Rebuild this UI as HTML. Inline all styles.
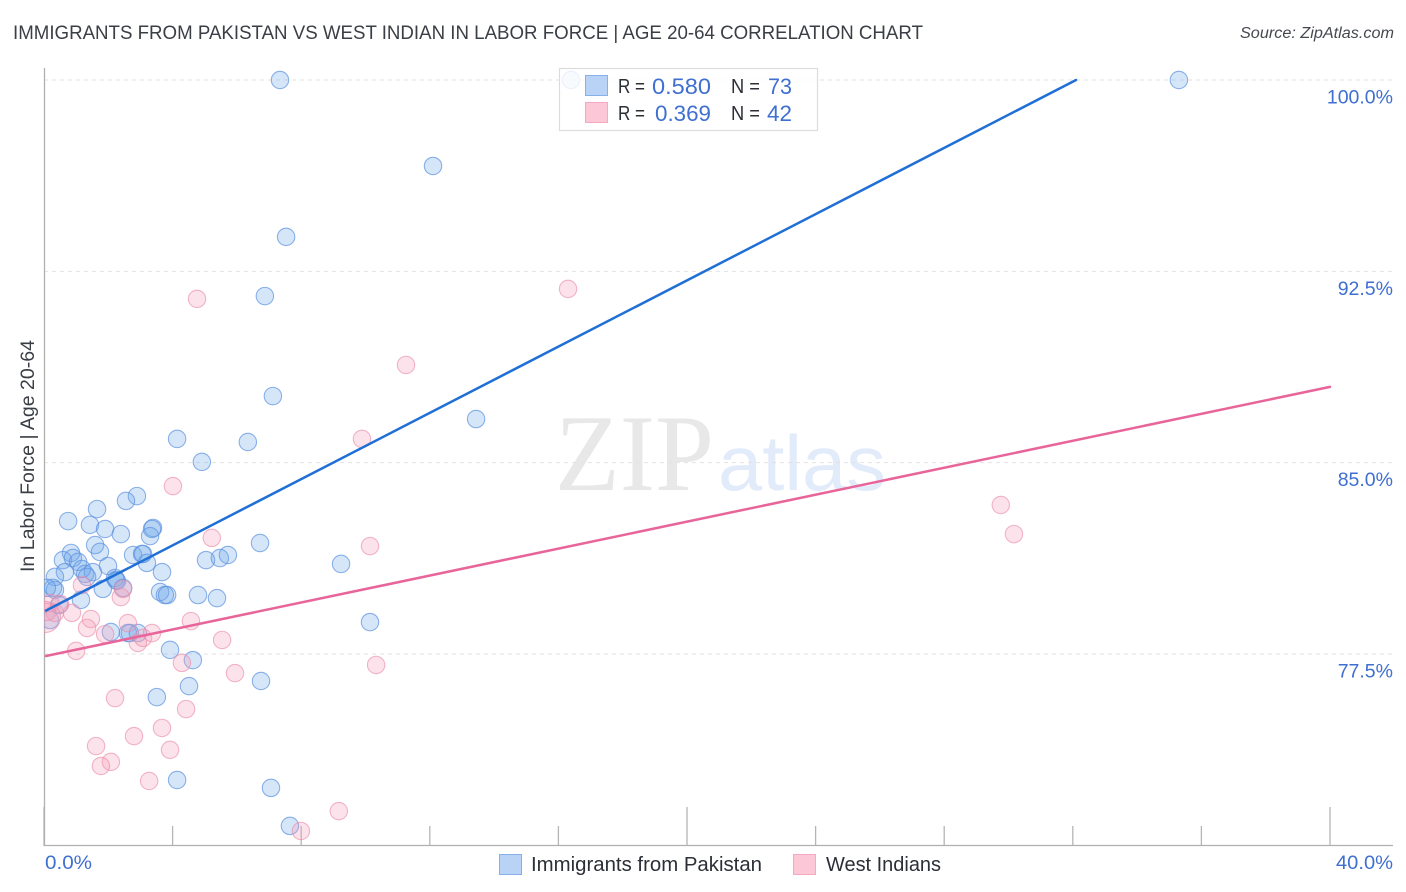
<!DOCTYPE html>
<html lang="en">
<head>
<meta charset="utf-8">
<title>Immigrants from Pakistan vs West Indian in Labor Force correlation chart</title>
<style>
html,body{margin:0;padding:0;background:#fff;}
body{width:1406px;height:892px;overflow:hidden;}
svg{display:block;}
text{font-family:"Liberation Sans",sans-serif;}
</style>
</head>
<body>
<svg id="chart" width="1406" height="892" viewBox="0 0 1406 892" xmlns="http://www.w3.org/2000/svg">
  <defs>
    <clipPath id="plot-clip"><rect x="44" y="60" width="1349" height="786"/></clipPath>
  </defs>
  <text x="13" y="39" font-size="19.5" fill="#3a3e45" textLength="910" lengthAdjust="spacingAndGlyphs">IMMIGRANTS FROM PAKISTAN VS WEST INDIAN IN LABOR FORCE | AGE 20-64 CORRELATION CHART</text>
  <text x="1394" y="38" font-size="15.5" font-style="italic" fill="#45494f" text-anchor="end" textLength="154" lengthAdjust="spacingAndGlyphs">Source: ZipAtlas.com</text>

  <g>
    <text x="555" y="490" font-size="109" fill="#e8e8e8" textLength="159" lengthAdjust="spacingAndGlyphs" style="font-family:'Liberation Serif',serif">ZIP</text>
    <text x="718" y="490" font-size="78" fill="#e2ebfa" textLength="168" lengthAdjust="spacingAndGlyphs">atlas</text>
  </g>

  <g id="grid"></g>
  <g id="xticks"></g>
  <g id="ylabels"></g>
  <line x1="44.5" y1="68" x2="44.5" y2="846" stroke="#b0b0b0" stroke-width="1.3"/>
  <line x1="44" y1="845.5" x2="1393" y2="845.5" stroke="#b0b0b0" stroke-width="1.3"/>

  <g id="points" clip-path="url(#plot-clip)"></g>
  <g id="trends"></g>

  <text transform="translate(34,456) rotate(-90)" font-size="19" fill="#3a3e45" text-anchor="middle" textLength="232" lengthAdjust="spacingAndGlyphs">In Labor Force | Age 20-64</text>
  <text x="45" y="869" font-size="19.5" fill="#3f6fd0" textLength="47" lengthAdjust="spacingAndGlyphs">0.0%</text>
  <text x="1393" y="869" font-size="19.5" fill="#3f6fd0" text-anchor="end" textLength="57" lengthAdjust="spacingAndGlyphs">40.0%</text>

  <g>
    <rect x="559.5" y="68.5" width="258" height="62" fill="#fff" fill-opacity="0.82" stroke="#dcdcdc" stroke-width="1.2"/>
    <rect x="585.5" y="75.5" width="22" height="20" fill="#b9d3f7" stroke="#85b0ea"/>
    <rect x="585.5" y="102.5" width="22" height="20" fill="#fcc8d8" stroke="#f5a9c0"/>
    <text x="618" y="93" font-size="20" fill="#2b2f36" textLength="27" lengthAdjust="spacingAndGlyphs">R =</text>
    <text x="652" y="94" font-size="22" fill="#3f6fd0" textLength="59" lengthAdjust="spacingAndGlyphs">0.580</text>
    <text x="731" y="93" font-size="20" fill="#2b2f36" textLength="29" lengthAdjust="spacingAndGlyphs">N =</text>
    <text x="768" y="94" font-size="22" fill="#3f6fd0" textLength="24" lengthAdjust="spacingAndGlyphs">73</text>
    <text x="618" y="120" font-size="20" fill="#2b2f36" textLength="27" lengthAdjust="spacingAndGlyphs">R =</text>
    <text x="655" y="121" font-size="22" fill="#3f6fd0" textLength="56" lengthAdjust="spacingAndGlyphs">0.369</text>
    <text x="731" y="120" font-size="20" fill="#2b2f36" textLength="29" lengthAdjust="spacingAndGlyphs">N =</text>
    <text x="767" y="121" font-size="22" fill="#3f6fd0" textLength="25" lengthAdjust="spacingAndGlyphs">42</text>
  </g>

  <g>
    <rect x="499.5" y="854.5" width="22" height="20" fill="#b9d3f7" stroke="#85b0ea"/>
    <text x="531" y="871" font-size="20" fill="#2b2f36" textLength="231" lengthAdjust="spacingAndGlyphs">Immigrants from Pakistan</text>
    <rect x="793.5" y="854.5" width="22" height="20" fill="#fcc8d8" stroke="#f5a9c0"/>
    <text x="826" y="871" font-size="20" fill="#2b2f36" textLength="115" lengthAdjust="spacingAndGlyphs">West Indians</text>
  </g>
</svg>
<script>
const yTickValues = [100, 92.5, 85, 77.5];
const yTickLabels = ["100.0%", "92.5%", "85.0%", "77.5%"];
const xTickValues = [0, 4, 8, 12, 16, 20, 24, 28, 32, 36, 40];
const xMajorTicks = [0, 20, 40];

const pakistanX = [7.34,16.39,35.30,12.10,7.53,6.87,7.12,13.44,4.14,6.34,4.91,2.89,2.55,1.65,0.75,1.43,1.90,2.39,3.39,3.36,3.30,1.59,1.74,0.84,0.59,0.90,1.06,2.77,3.05,3.08,3.20,1.99,3.67,0.65,0.34,1.18,1.28,1.52,1.34,2.21,2.24,2.27,2.46,1.83,0.28,0.34,0.09,1.15,3.61,3.76,3.83,4.79,5.38,6.72,5.04,5.47,5.72,0.47,0.19,2.08,2.61,2.67,2.92,3.92,4.63,9.24,10.14,6.75,4.51,3.51,4.14,7.06,7.65];
const pakistanY = [100,100,100,96.63,93.85,91.53,87.61,86.71,85.93,85.81,85.03,83.69,83.50,83.18,82.71,82.56,82.40,82.20,82.44,82.40,82.12,81.77,81.50,81.46,81.18,81.26,81.11,81.38,81.42,81.42,81.07,80.95,80.71,80.71,80.52,80.83,80.64,80.71,80.52,80.48,80.40,80.36,80.09,80.05,80.09,80.01,80.09,79.62,79.93,79.81,79.81,79.81,79.69,81.85,81.18,81.26,81.38,79.42,78.83,78.36,78.32,78.32,78.32,77.66,77.26,81.03,78.75,76.44,76.24,75.81,72.56,72.25,70.76];

const westIndianX = [4.76,16.30,11.26,9.89,4.01,5.22,10.14,29.76,30.17,1.18,2.39,2.46,0.87,1.46,1.34,1.90,2.61,2.92,3.08,3.36,4.57,5.54,1.00,4.29,0.19,0.34,0.50,0.03,5.94,10.33,2.21,4.42,3.67,2.80,3.92,1.62,2.08,1.77,3.27,7.99,9.17,0.09];
const westIndianY = [91.42,91.81,88.83,85.93,84.08,82.05,81.73,83.34,82.20,80.20,79.73,80.05,79.11,78.87,78.52,78.28,78.71,77.93,78.13,78.32,78.79,78.05,77.62,77.15,79.50,79.11,79.46,78.95,76.75,77.07,75.77,75.34,74.60,74.28,73.74,73.89,73.27,73.11,72.52,70.56,71.34,79.15];
const westIndianWeight = [1,1,1,1,1,1,1,1,1,1,1,1,1,1,1,1,1,1,1,1,1,1,1,1,1,1,1,3.2,1,1,1,1,1,1,1,1,1,1,1,1,1,1];

const pakistanTrendX = [0.06, 32.1];
const pakistanTrendY = [79.2, 100];
const westIndianTrendX = [0.06, 40];
const westIndianTrendY = [77.42, 87.97];

const SVGNS = "http://www.w3.org/2000/svg";
function xScale(v) { return 44 + v * 32.15; }
function yScale(v) { return 80 + (100 - v) * 25.51; }
function make(tag, attrs, parent) {
  const el = document.createElementNS(SVGNS, tag);
  for (const k in attrs) el.setAttribute(k, attrs[k]);
  parent.appendChild(el);
  return el;
}

const grid = document.getElementById("grid");
const ylabels = document.getElementById("ylabels");
yTickValues.forEach(function (v, i) {
  const y = yScale(v);
  const g = make("line", {x1: 44, x2: 1393, y1: y, y2: y, stroke: "#e2e2e2", "stroke-width": 1, "stroke-dasharray": "4 4"}, grid);
  
  
  const t = make("text", {x: 1393, y: y + 23.5, "font-size": 19.5, fill: "#3f6fd0", "text-anchor": "end"}, ylabels);
  t.textContent = yTickLabels[i];
  
  
});

const xticks = document.getElementById("xticks");
xTickValues.forEach(function (v) {
  const x = xScale(v);
  const top = xMajorTicks.indexOf(v) >= 0 ? 807 : 826;
  const tk = make("line", {x1: x, x2: x, y1: top, y2: 846, stroke: "#b5b5b5", "stroke-width": 1.3}, xticks);
  
  
});

const points = document.getElementById("points");
pakistanX.forEach(function (v, i) {
  const c = make("circle", {cx: xScale(v), cy: yScale(pakistanY[i]), r: 8.7, fill: "#6aa5ea", "fill-opacity": 0.28, stroke: "#5c92e0", "stroke-opacity": 0.7, "stroke-width": 1.1}, points);
  
  
});
westIndianX.forEach(function (v, i) {
  const c = make("circle", {cx: xScale(v), cy: yScale(westIndianY[i]), r: 8.7 * Math.sqrt(westIndianWeight[i]), fill: "#f5a0b8", "fill-opacity": 0.3, stroke: "#ea8aa8", "stroke-opacity": 0.62, "stroke-width": 1.1}, points);
  
  
});

const trends = document.getElementById("trends");
const trendBlue = make("line", {x1: xScale(pakistanTrendX[0]), y1: yScale(pakistanTrendY[0]), x2: xScale(pakistanTrendX[1]), y2: yScale(pakistanTrendY[1]), stroke: "#1f6fd6", "stroke-width": 2.5, "stroke-linecap": "round"}, trends);


const trendPink = make("line", {x1: xScale(westIndianTrendX[0]), y1: yScale(westIndianTrendY[0]), x2: xScale(westIndianTrendX[1]), y2: yScale(westIndianTrendY[1]), stroke: "#e8659a", "stroke-width": 2.5, "stroke-linecap": "round"}, trends);


</script>
</body>
</html>
